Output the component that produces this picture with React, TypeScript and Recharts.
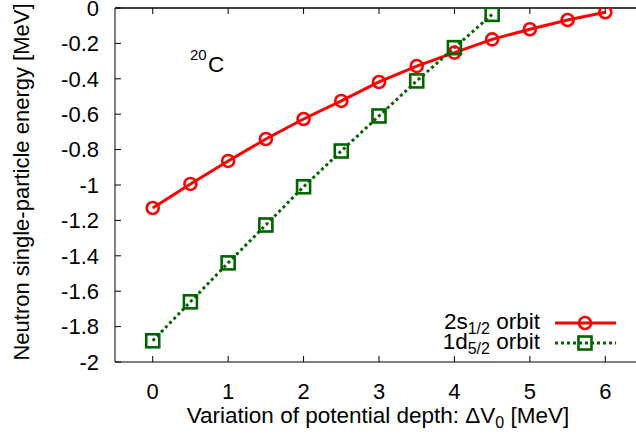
import React from 'react';
import { LineChart, Line, XAxis, YAxis, Customized } from 'recharts';

// variation of potential depth, MeV
const DV0 = [0, 0.5, 1, 1.5, 2, 2.5, 3, 3.5, 4, 4.5, 5, 5.5, 6];
// 2s1/2 orbit energies
const S12 = [-1.13, -0.994, -0.864, -0.74, -0.627, -0.525, -0.418, -0.328, -0.252, -0.177, -0.12, -0.068, -0.024];
// 1d5/2 orbit energies (bound only up to 4.5)
const D52 = [-1.88, -1.66, -1.44, -1.226, -1.01, -0.808, -0.61, -0.412, -0.224, -0.036];

const X_TICKS = [0, 1, 2, 3, 4, 5, 6];
const Y_TICKS = [0, -0.2, -0.4, -0.6, -0.8, -1, -1.2, -1.4, -1.6, -1.8, -2];
const X_DOMAIN = [-0.5, 6.5];

const RED = '#ff0000';
const GREEN = '#006400';
const FONT = '"Liberation Sans", Arial, Helvetica, sans-serif';

// plot frame (matches chart margins / axis sizes below)
const PLOT_L = 115;
const PLOT_R = 643;
const PLOT_T = 8;

const data = DV0.map((x, i) => ({
  x,
  s: S12[i],
  d: i < D52.length ? D52[i] : null,
}));

const fmtY = (v: number) => String(Number(v.toFixed(1)));

function SquareDot(props: any) {
  const { cx, cy } = props;
  if (cx == null || cy == null) return null;
  return <rect x={cx - 6.5} y={cy - 6.5} width={13} height={13} fill="none" stroke={GREEN} strokeWidth={2.6} />;
}

function Texts() {
  const tx = (t: number) => PLOT_L + ((t - X_DOMAIN[0]) / (X_DOMAIN[1] - X_DOMAIN[0])) * (PLOT_R - PLOT_L);
  return (
    <g fontFamily={FONT} fill="#000">
      {/* mirrored top border */}
      <line x1={PLOT_L} x2={PLOT_R} y1={PLOT_T} y2={PLOT_T} stroke="#000" strokeWidth={1.5} />
      {X_TICKS.map((t) => (
        <line key={t} x1={tx(t)} x2={tx(t)} y1={PLOT_T} y2={PLOT_T + 6} stroke="#000" strokeWidth={1} />
      ))}

      <text x={190} y={60} fontSize={15}>20</text>
      <text x={208} y={72} fontSize={22.5}>C</text>

      <text x={378} y={423} fontSize={22.5} textAnchor="middle">
        Variation of potential depth: ΔV
        <tspan fontSize={16} dy={5}>0</tspan>
        <tspan dy={-5}> [MeV]</tspan>
      </text>

      <text x={29} y={182} fontSize={22} textAnchor="middle" transform="rotate(-90 29 182)">
        Neutron single-particle energy [MeV]
      </text>

      {/* legend */}
      <text x={540} y={329} fontSize={22.5} textAnchor="end">
        2s<tspan fontSize={16} dy={5}>1/2</tspan><tspan dy={-5}> orbit</tspan>
      </text>
      <line x1={555} x2={616} y1={323} y2={323} stroke={RED} strokeWidth={3} />
      <circle cx={585} cy={323} r={6} fill="none" stroke={RED} strokeWidth={2.6} />

      <text x={540} y={349} fontSize={22.5} textAnchor="end">
        1d<tspan fontSize={16} dy={5}>5/2</tspan><tspan dy={-5}> orbit</tspan>
      </text>
      <line x1={555} x2={616} y1={343} y2={343} stroke={GREEN} strokeWidth={3} strokeDasharray="3 3" />
      <rect x={578.5} y={336.5} width={13} height={13} fill="none" stroke={GREEN} strokeWidth={2.6} />
    </g>
  );
}

export default function App() {
  return (
    <div style={{ position: 'fixed', left: 0, top: 0, width: 636, height: 436, overflow: 'hidden', background: '#fff' }}>
      <LineChart width={660} height={436} data={data} margin={{ top: PLOT_T, right: 660 - PLOT_R, bottom: 0, left: 0 }}>
        <XAxis
          dataKey="x"
          type="number"
          domain={X_DOMAIN}
          ticks={X_TICKS}
          interval={0}
          height={74}
          tickSize={-6}
          tickMargin={27}
          stroke="#000"
          tick={{ fill: '#000', fontSize: 22, fontFamily: FONT }}
          allowDataOverflow
        />
        <YAxis
          type="number"
          domain={[-2, 0]}
          ticks={Y_TICKS}
          interval={0}
          width={PLOT_L}
          tickSize={-6}
          tickMargin={22}
          tickFormatter={fmtY}
          stroke="#000"
          tick={{ fill: '#000', fontSize: 22, fontFamily: FONT }}
          allowDataOverflow
        />
        <Line
          dataKey="s"
          stroke={RED}
          strokeWidth={3}
          dot={{ r: 6, fill: 'none', stroke: RED, strokeWidth: 2.6 }}
          isAnimationActive={false}
        />
        <Line
          dataKey="d"
          stroke={GREEN}
          strokeWidth={3}
          strokeDasharray="3 3"
          dot={<SquareDot />}
          connectNulls={false}
          isAnimationActive={false}
        />
        <Customized component={Texts} />
      </LineChart>
    </div>
  );
}
